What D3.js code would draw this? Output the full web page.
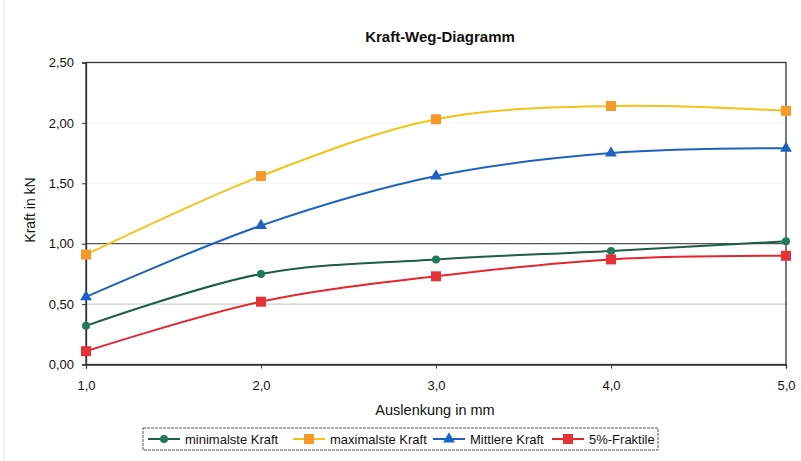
<!DOCTYPE html>
<html>
<head>
<meta charset="utf-8">
<script src="https://cdn.jsdelivr.net/npm/d3@7"></script>
<style>
body { margin:0; background:#fff; }
svg text { font-family: "Liberation Sans", Arial, sans-serif; fill:#111; }
</style>
</head>
<body>
<div id="chart"></div>
<script>
// Daten aus dem Diagramm
var weg = [1.0, 2.0, 3.0, 4.0, 5.0];
var minimalste = [0.32, 0.75, 0.87, 0.94, 1.02];
var maximalste = [0.91, 1.56, 2.03, 2.14, 2.10];
var mittlere = [0.56, 1.15, 1.56, 1.75, 1.79];
var fraktile = [0.11, 0.52, 0.73, 0.87, 0.90];
var yTicks = [0, 0.5, 1.0, 1.5, 2.0, 2.5];
var reihen = ["minimalste Kraft", "maximalste Kraft", "Mittlere Kraft", "5%-Fraktile"];

var width = 801, height = 461;
var fmt = function(v, n){ return v.toFixed(n).replace(".", ","); };

var svg = d3.select("#chart").append("svg")
	.attr("width", width)
	.attr("height", height);

var x = d3.scaleLinear().domain([1, 5]).range([86, 786]);
var y = d3.scaleLinear().domain([0, 2.5]).range([364.5, 62.5]);

// Rand links (Scan)
svg.append("line").attr("x1",4).attr("x2",4).attr("y1",0).attr("y2",461)
	.style("stroke","#ececec").style("stroke-width",1.5);

// Gitterlinien
svg.selectAll(".grid").data(yTicks.filter(function(d){ return d > 0 && d < 2.5; }))
	.enter().append("line")
	.attr("x1", x(1)).attr("x2", x(5))
	.attr("y1", function(d){ return y(d); })
	.attr("y2", function(d){ return y(d); })
	.style("stroke", function(d){ return d == 1 ? "#555" : (d == 0.5 ? "#cfcfcf" : "#f4f4f4"); })
	.style("stroke-width", function(d){ return d == 1 ? 1.3 : 1.2; });

// Rahmen
svg.append("rect").attr("x", x(1)).attr("y", y(2.5))
	.attr("width", x(5)-x(1)).attr("height", y(0)-y(2.5))
	.style("fill","none").style("stroke","#333").style("stroke-width",1.3);

// Achsen
var yAxis = d3.axisLeft(y).tickValues(yTicks).tickSize(4).tickFormat(function(d){ return fmt(d,2); });
var gy = svg.append("g").attr("transform","translate(" + x(1) + ",0)").call(yAxis);
var xAxis = d3.axisBottom(x).tickValues(weg).tickSize(4).tickFormat(function(d){ return fmt(d,1); });
var gx = svg.append("g").attr("transform","translate(0," + y(0) + ")").call(xAxis);
[gy, gx].forEach(function(g){
	g.select(".domain").style("stroke","#333").style("stroke-width",1.3);
	g.selectAll(".tick line").style("stroke","#333");
	g.selectAll("text").style("font-size","13px").style("fill","#111");
});
gy.selectAll("text").attr("x", -12);
gx.selectAll("text").attr("y", 16);

// Titel und Achsenbeschriftung
svg.append("text").attr("x", 440).attr("y", 42).attr("text-anchor","middle")
	.style("font-size","15px").style("font-weight","bold").text("Kraft-Weg-Diagramm");
svg.append("text").attr("x", 435).attr("y", 415).attr("text-anchor","middle")
	.style("font-size","14.5px").text("Auslenkung in mm");
svg.append("text").attr("transform","translate(35,210) rotate(-90)").attr("text-anchor","middle")
	.style("font-size","14px").text("Kraft in kN");

var series = [
	{name: reihen[0], values: minimalste, line: "#1d5e45", fill: "#1e7a58", marker: "circle"},
	{name: reihen[1], values: maximalste, line: "#f3c31a", fill: "#f7982a", marker: "square"},
	{name: reihen[2], values: mittlere, line: "#1d62c2", fill: "#1d62c2", marker: "triangle"},
	{name: reihen[3], values: fraktile, line: "#e4262e", fill: "#e8323a", marker: "square"}
];

var line = d3.line()
	.x(function(d){ return x(d[0]); })
	.y(function(d){ return y(d[1]); })
	.curve(d3.curveCatmullRom.alpha(0.5));

function drawMarker(g, type, cx, cy, color){
	if (type == "circle") {
		g.append("circle").attr("cx",cx).attr("cy",cy).attr("r",4).style("fill",color);
	} else if (type == "square") {
		g.append("rect").attr("x",cx-5).attr("y",cy-5).attr("width",10).attr("height",10).style("fill",color);
	} else {
		g.append("path").attr("d", d3.symbol().type(d3.symbolTriangle).size(60)())
			.attr("transform","translate(" + cx + "," + cy + ")").style("fill",color);
	}
}

series.forEach(function(s){
	var pts = weg.map(function(w,i){ return [w, s.values[i]]; });
	svg.append("path").datum(pts).attr("d", line)
		.style("fill","none").style("stroke", s.line).style("stroke-width",2);
	var g = svg.append("g");
	pts.forEach(function(p){ drawMarker(g, s.marker, x(p[0]), y(p[1]), s.fill); });
});

// Legende
var lg = svg.append("g");
lg.append("rect").attr("x",143).attr("y",428).attr("width",515).attr("height",22)
	.style("fill","#fff").style("stroke","#555").style("stroke-width",1).style("stroke-dasharray","3,1");
var lx = [148, 293, 433, 552];
series.forEach(function(s,i){
	lg.append("line").attr("x1",lx[i]).attr("x2",lx[i]+32).attr("y1",439).attr("y2",439)
		.style("stroke", s.line).style("stroke-width",2);
	drawMarker(lg, s.marker, lx[i]+16, 439, s.fill);
	lg.append("text").attr("x",lx[i]+37).attr("y",443.5).style("font-size","13px").text(s.name);
});
</script>
</body>
</html>
